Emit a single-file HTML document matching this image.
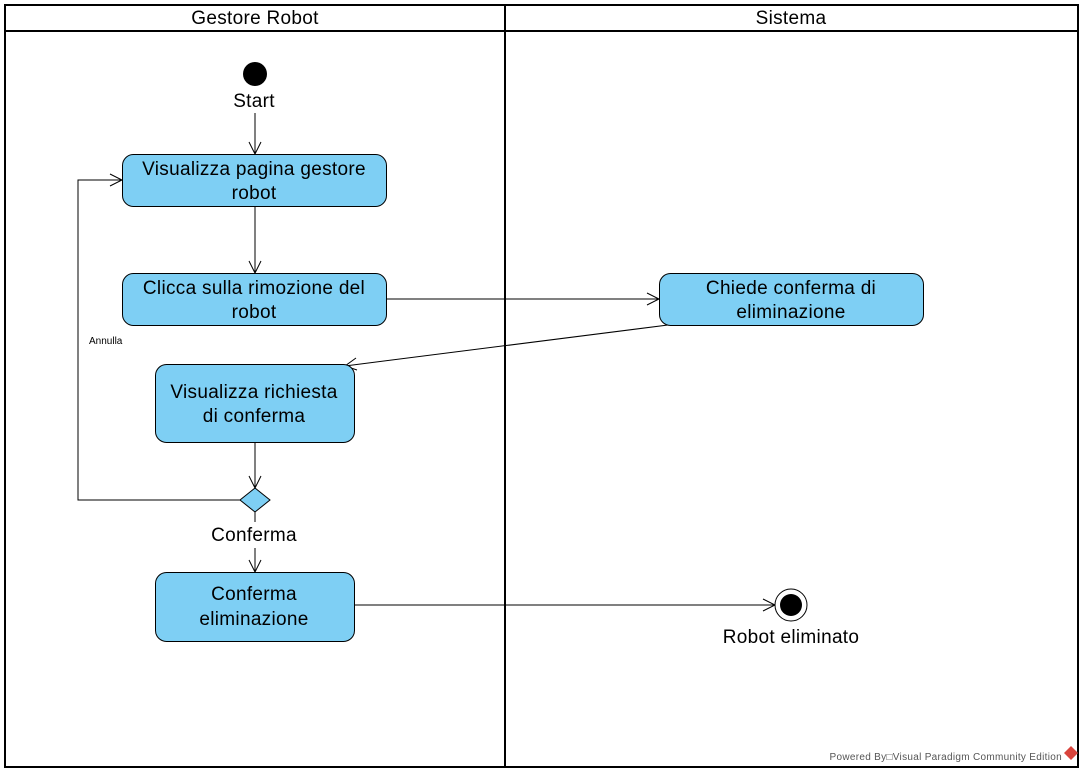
<!DOCTYPE html>
<html><head><meta charset="utf-8"><style>
html,body{margin:0;padding:0;background:#fff;}
svg{display:block;font-family:"Liberation Sans",Arial,sans-serif;}
</style></head><body>
<svg width="1083" height="772" viewBox="0 0 1083 772">
<rect x="0" y="0" width="1083" height="772" fill="#fff"/>
<rect x="5" y="5" width="1073" height="762" fill="none" stroke="#000" stroke-width="2"/>
<line x1="5" y1="31" x2="1078" y2="31" stroke="#000" stroke-width="2"/>
<line x1="505" y1="5" x2="505" y2="767" stroke="#000" stroke-width="2"/>
<g font-size="19" letter-spacing="0.3" text-anchor="middle">
<text x="255" y="24">Gestore Robot</text>
<text x="791" y="24">Sistema</text>
</g>

<g stroke="#000" stroke-width="1" fill="none">
<line x1="255" y1="113" x2="255" y2="154"/><polyline points="249,142 255,154 261,142"/>
<line x1="255" y1="206" x2="255" y2="273"/><polyline points="249,261 255,273 261,261"/>
<line x1="386" y1="299" x2="659" y2="299"/><polyline points="647,293 659,299 647,305"/>
<line x1="668" y1="325" x2="345" y2="366"/><polyline points="356,358 345,366 357,370"/>
<line x1="255" y1="442" x2="255" y2="488"/><polyline points="249,476 255,488 261,476"/>
<polyline points="240,500 78,500 78,180 122,180"/><polyline points="110,174 122,180 110,186"/>
<line x1="255" y1="512" x2="255" y2="522"/>
<line x1="255" y1="548" x2="255" y2="572"/><polyline points="249,560 255,572 261,560"/>
<line x1="354" y1="605" x2="775" y2="605"/><polyline points="763,599 775,605 763,611"/>
</g>

<circle cx="255" cy="74" r="12" fill="#000"/>

<g fill="#7ecff4" stroke="#000" stroke-width="1">
<rect x="122.5" y="154.5" width="264" height="52" rx="11"/>
<rect x="122.5" y="273.5" width="264" height="52" rx="11"/>
<rect x="659.5" y="273.5" width="264" height="52" rx="11"/>
<rect x="155.5" y="364.5" width="199" height="78" rx="11"/>
<rect x="155.5" y="572.5" width="199" height="69" rx="11"/>
<polygon points="255,488 270,500 255,512 240,500"/>
</g>
<g font-size="19" letter-spacing="0.3" text-anchor="middle">
<text x="254" y="107">Start</text>
<text x="254" y="175">Visualizza pagina gestore</text><text x="254" y="199">robot</text>
<text x="254" y="294">Clicca sulla rimozione del</text><text x="254" y="318">robot</text>
<text x="791" y="294">Chiede conferma di</text><text x="791" y="318">eliminazione</text>
<text x="254" y="398">Visualizza richiesta</text><text x="254" y="422">di conferma</text>
<text x="254" y="600">Conferma</text><text x="254" y="625">eliminazione</text>
<text x="254" y="541">Conferma</text>
<text x="791" y="643">Robot eliminato</text>
</g>
<text x="89" y="344" font-size="10">Annulla</text>

<circle cx="791" cy="605" r="16" fill="#fff" stroke="#000" stroke-width="1"/>
<circle cx="791" cy="605" r="11" fill="#000"/>

<text x="1062" y="760" font-size="10" letter-spacing="0.3" fill="#555" text-anchor="end">Powered By□Visual Paradigm Community Edition</text>
<polygon points="1071,746 1078,753 1071,760 1064,753" fill="#d9443c"/>
</svg>
</body></html>
